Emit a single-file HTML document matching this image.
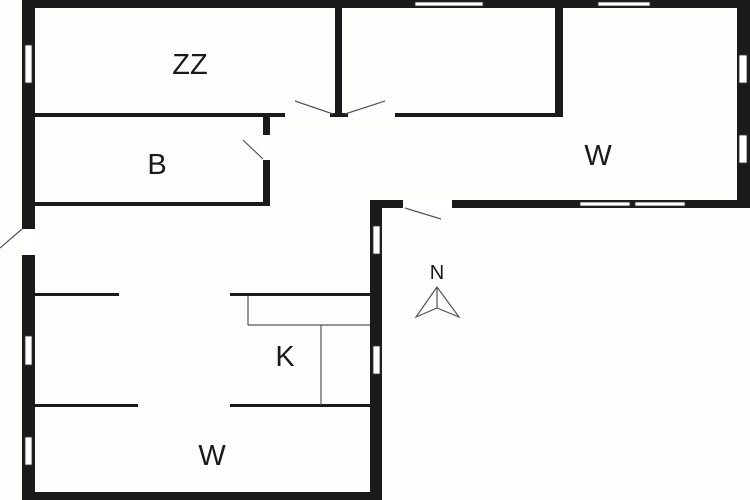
<!DOCTYPE html><html><head><style>body{margin:0;background:#fdfdfc}svg{display:block}</style></head><body>
<svg width="750" height="500" viewBox="0 0 750 500" xmlns="http://www.w3.org/2000/svg" font-family="Liberation Sans, sans-serif">
<rect width="750" height="500" fill="#fdfdfc"/>
<g fill="#1a1a1a">
<rect x="22" y="0" width="728" height="8"/>
<rect x="22" y="0" width="13" height="500"/>
<rect x="22" y="492" width="360" height="8"/>
<rect x="370" y="200" width="12" height="300"/>
<rect x="737" y="0" width="13" height="208"/>
<rect x="370" y="200" width="380" height="8"/>
<rect x="335" y="7" width="7" height="110"/>
<rect x="555" y="7" width="8" height="110"/>
<rect x="35" y="113" width="250" height="4"/>
<rect x="330" y="113" width="18" height="4"/>
<rect x="395" y="113" width="168" height="4"/>
<rect x="35" y="202" width="235" height="4"/>
<rect x="263" y="115" width="7" height="20"/>
<rect x="263" y="160" width="7" height="46"/>
<rect x="35" y="293" width="84" height="3"/>
<rect x="230" y="293" width="140" height="3"/>
<rect x="35" y="404" width="103" height="3"/>
<rect x="230" y="404" width="140" height="3"/>
</g>
<g fill="#fff" stroke="#333" stroke-width="0.8">
<rect x="25" y="45" width="7" height="38"/>
<rect x="22" y="229" width="13" height="26" stroke="none"/>
<rect x="25" y="336" width="7" height="29"/>
<rect x="25" y="437" width="7" height="28"/>
<rect x="373" y="226" width="7" height="28"/>
<rect x="373" y="346" width="7" height="28"/>
<rect x="415" y="2" width="68" height="4"/>
<rect x="598" y="2" width="52" height="4"/>
<rect x="739" y="55" width="8" height="28"/>
<rect x="739" y="135" width="8" height="28"/>
<rect x="580" y="202" width="50" height="4"/>
<rect x="635" y="202" width="50" height="4"/>
<rect x="403" y="200" width="49" height="8" stroke="none"/>
<rect x="285" y="112" width="45" height="6" stroke="none"/>
<rect x="348" y="112" width="47" height="6" stroke="none"/>
<rect x="262" y="135" width="9" height="25" stroke="none"/>
</g>
<g stroke="#555" stroke-width="1.2" fill="none">
<line x1="295" y1="101" x2="333" y2="114"/>
<line x1="385" y1="101" x2="345" y2="114"/>
<line x1="243" y1="140" x2="263" y2="159"/>
<line x1="0" y1="248" x2="22" y2="229"/>
<line x1="405" y1="208" x2="441" y2="219"/>
<line x1="248" y1="296" x2="248" y2="325"/>
<line x1="248" y1="325" x2="370" y2="325"/>
<line x1="321" y1="325" x2="321" y2="405"/>
<polygon points="437,287 416,317 437,308 459,317"/>
<line x1="437" y1="287" x2="437" y2="308"/>
</g>
<g fill="#1a1a1a" text-anchor="middle" font-size="29">
<text x="190" y="74">ZZ</text>
<text x="157" y="174">B</text>
<text x="598" y="165">W</text>
<text x="285" y="366">K</text>
<text x="212" y="465">W</text>
<text x="437" y="279" font-size="20">N</text>
</g>
</svg>
</body></html>
